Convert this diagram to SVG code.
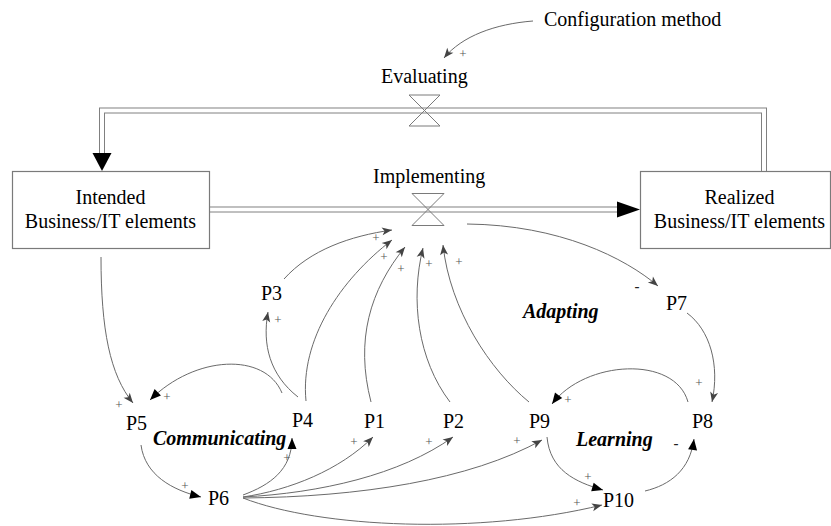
<svg xmlns="http://www.w3.org/2000/svg" width="831" height="526" viewBox="0 0 831 526">
<style>
text{font-family:"Liberation Serif","Times New Roman",serif;fill:#000}
.lbl{font-size:20px}
.mid{text-anchor:middle}
.loop{font-size:20px;font-weight:bold;font-style:italic}
.pl{font-size:13px;fill:#555;text-anchor:middle}
.mn{font-size:15px;font-weight:bold;fill:#222;text-anchor:middle}
.lk{fill:none;stroke:#6a6a6a;stroke-width:1}
.ga{marker-end:url(#ag)}
.ba{marker-end:url(#ab)}
.box{fill:#fff;stroke:#7a7a7a;stroke-width:1.2}
.valve{fill:none;stroke:#7a7a7a;stroke-width:1}
.pipeo{fill:none;stroke:#808080;stroke-width:6}
.pipei{fill:none;stroke:#fff;stroke-width:4}
</style>
<defs>
<marker id="ag" markerUnits="userSpaceOnUse" markerWidth="11" markerHeight="9" refX="10" refY="4" orient="auto" overflow="visible">
<path d="M0,0 L10,4 L0,8 L2.5,4 z" fill="#444"/>
</marker>
<marker id="ab" markerUnits="userSpaceOnUse" markerWidth="12" markerHeight="10" refX="11" refY="4.5" orient="auto" overflow="visible">
<path d="M0,0 L11,4.5 L0,9 z" fill="#000"/>
</marker>
</defs>
<rect width="831" height="526" fill="#fff"/>

<g id="flows">
<path class="pipeo" d="M764,171 V110.5 H102 V153"/>
<path class="pipei" d="M764,171 V110.5 H102 V153"/>
<polygon points="92.5,153 111.5,153 102,171" fill="#000"/>
<path class="pipeo" d="M209,209.5 H618"/>
<path class="pipei" d="M209,209.5 H618"/>
<polygon points="617,201.5 640,209.5 617,217.5" fill="#000"/>
</g>

<g id="connectors">
<path class="lk ga" d="M533,21 C 495,24 462,36 444,58"/>
<path class="lk ga" d="M101,257 C 101,330 110,375 133,403"/>
<path class="lk ba" d="M282,393 C 265,352 195,355 150,400"/>
<path class="lk ga" d="M298,397 C 270,375 262,345 268,312"/>
<path class="lk ga" d="M284,279 C 310,250 350,236 392,230"/>
<path class="lk ga" d="M306,401 C 300,340 340,280 392,240"/>
<path class="lk ga" d="M371,402 C 355,340 370,290 405,247"/>
<path class="lk ga" d="M450,402 C 418,360 410,300 423,248"/>
<path class="lk ga" d="M529,402 C 490,370 450,310 443,245"/>
<path class="lk ga" d="M467,224 C 560,225 625,258 658,286"/>
<path class="lk ga" d="M687,313 C 710,330 720,365 712,402"/>
<path class="lk ba" d="M688,402 C 675,355 585,360 552,404"/>
<path class="lk ba" d="M547,437 C 550,470 575,482 603,490"/>
<path class="lk ba" d="M645,491 C 670,485 690,470 694,439"/>
<path class="lk ba" d="M141,445 C 145,475 172,490 201,497"/>
<path class="lk ba" d="M243,495 C 270,485 292,470 292,438"/>
<path class="lk ga" d="M243,497 C 290,490 340,470 373,437"/>
<path class="lk ga" d="M243,497 C 320,493 400,475 453,437"/>
<path class="lk ga" d="M243,498 C 360,497 470,480 542,440"/>
<path class="lk ga" d="M243,498 C 320,528 480,535 602,505"/>
</g>

<g id="polarities">
<text class="pl" x="463" y="58">+</text>
<text class="pl" x="119" y="409">+</text>
<text class="pl" x="167" y="401">+</text>
<text class="pl" x="278" y="324">+</text>
<text class="pl" x="376" y="242">+</text>
<text class="pl" x="384" y="261">+</text>
<text class="pl" x="401" y="273">+</text>
<text class="pl" x="429" y="268">+</text>
<text class="pl" x="459" y="266">+</text>
<text class="pl" x="185" y="490">+</text>
<text class="pl" x="287" y="462">+</text>
<text class="pl" x="354" y="446">+</text>
<text class="pl" x="429" y="446">+</text>
<text class="pl" x="517" y="445">+</text>
<text class="pl" x="577" y="507">+</text>
<text class="pl" x="588" y="481">+</text>
<text class="pl" x="699" y="387">+</text>
<text class="pl" x="568" y="404">+</text>
<text class="mn" x="637" y="291">-</text>
<text class="mn" x="676" y="448">-</text>
</g>

<g id="node-config"><text class="lbl" x="544" y="26">Configuration method</text></g>
<g id="node-evaluating">
<text class="lbl" x="381" y="83">Evaluating</text>
<path class="valve" d="M409,95 H440 L409,126 H440 Z"/>
</g>
<g id="node-implementing">
<text class="lbl" x="373" y="183">Implementing</text>
<path class="valve" d="M412,193.5 H444 L412,225.5 H444 Z"/>
</g>
<g id="node-intended">
<rect class="box" x="12.5" y="171.5" width="197" height="77"/>
<text class="lbl mid" x="110.5" y="204">Intended</text>
<text class="lbl mid" x="110.5" y="228">Business/IT elements</text>
</g>
<g id="node-realized">
<rect class="box" x="640.5" y="171.5" width="190" height="77"/>
<text class="lbl mid" x="739.5" y="204">Realized</text>
<text class="lbl mid" x="739.5" y="228">Business/IT elements</text>
</g>
<g id="node-p1"><text class="lbl" x="364" y="428">P1</text></g>
<g id="node-p2"><text class="lbl" x="443" y="428">P2</text></g>
<g id="node-p3"><text class="lbl" x="261" y="300">P3</text></g>
<g id="node-p4"><text class="lbl" x="292" y="427">P4</text></g>
<g id="node-p5"><text class="lbl" x="126" y="430">P5</text></g>
<g id="node-p6"><text class="lbl" x="208" y="505">P6</text></g>
<g id="node-p7"><text class="lbl" x="666" y="310">P7</text></g>
<g id="node-p8"><text class="lbl" x="692" y="428">P8</text></g>
<g id="node-p9"><text class="lbl" x="529" y="428">P9</text></g>
<g id="node-p10"><text class="lbl" x="603" y="507">P10</text></g>
<g id="loop-labels">
<text class="loop" x="153" y="445">Communicating</text>
<text class="loop" x="523" y="318">Adapting</text>
<text class="loop" x="576" y="446">Learning</text>
</g>
</svg>
